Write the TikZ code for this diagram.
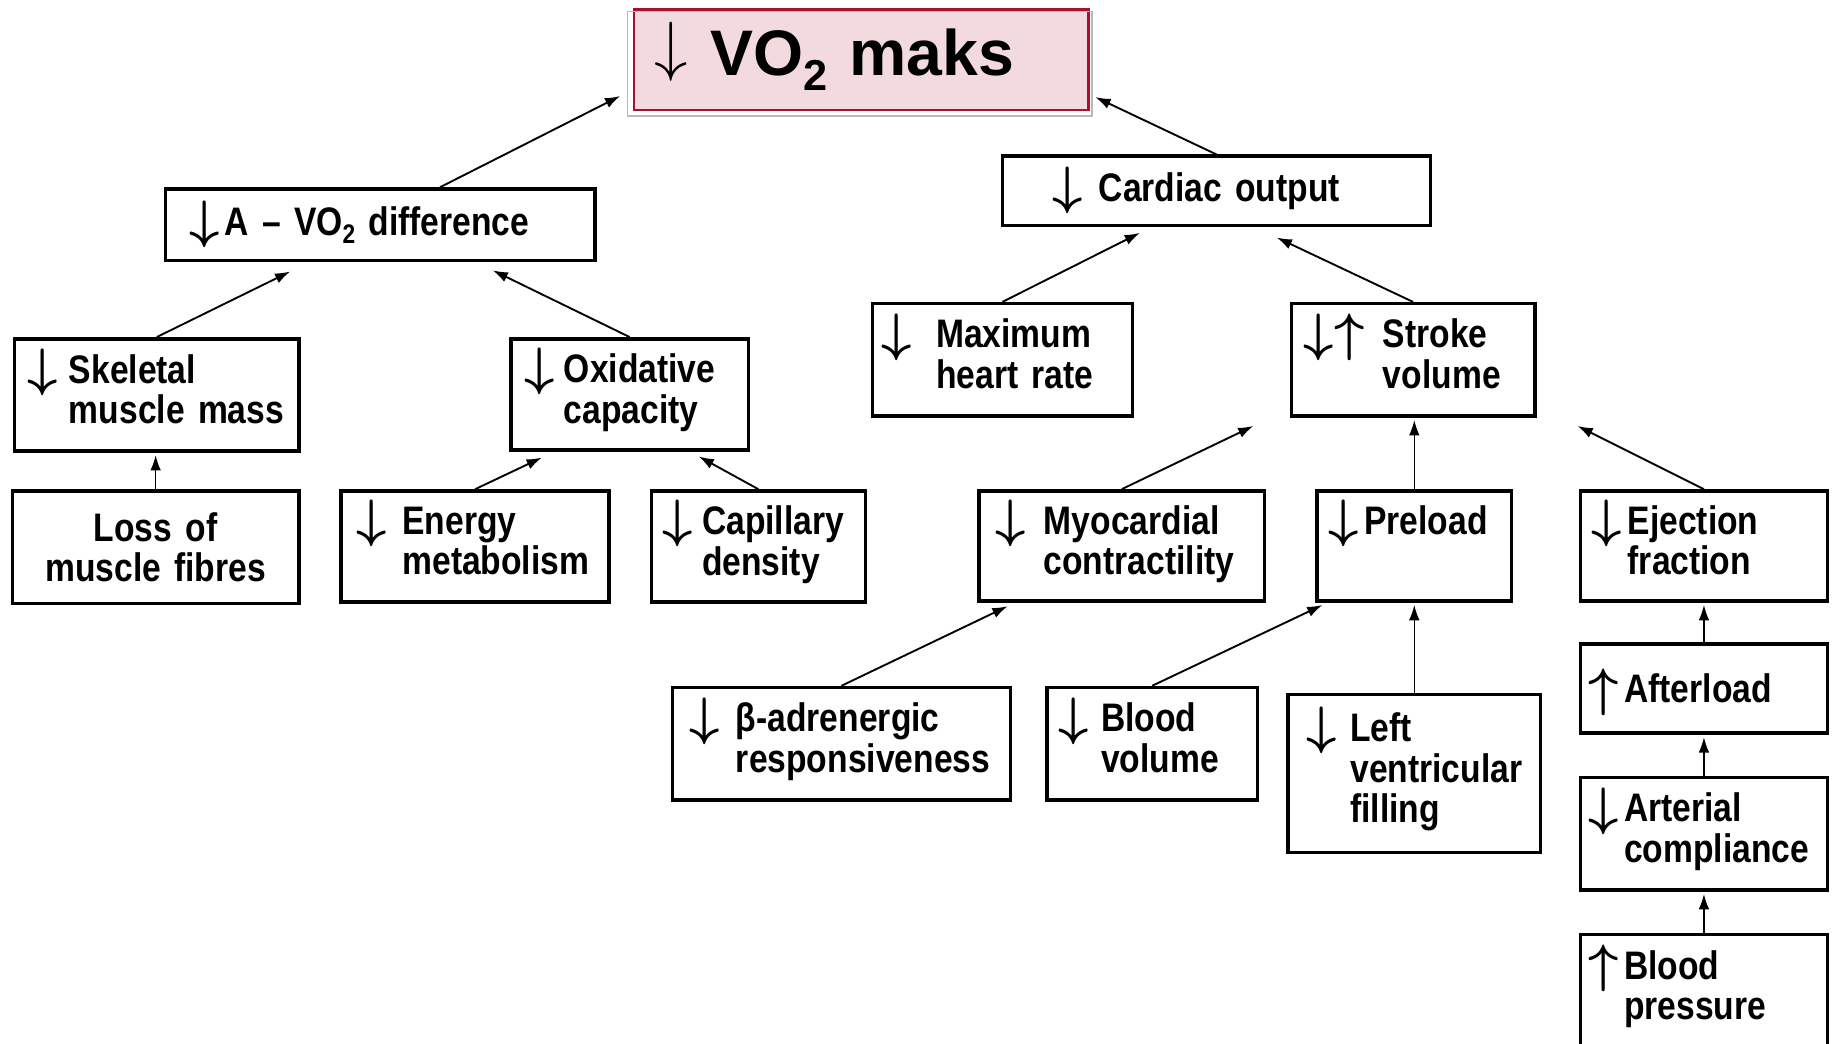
\RequirePackage{fix-cm}
\documentclass[tikz,border=0pt]{standalone}
\usepackage{fontspec}
\setmainfont{Liberation Sans}
\newfontfamily\bodyfont{Liberation Sans}[FakeStretch=0.845]
\usetikzlibrary{arrows.meta}
\definecolor{titlefill}{HTML}{F2DADE}
\definecolor{titleline}{HTML}{A8102E}
\newcommand\dnarr{\smash{\raisebox{-2pt}{\fontsize{45}{45}\selectfont\boldmath$\downarrow$}}}
\newcommand\uparr{\smash{\raisebox{-2pt}{\fontsize{45}{45}\selectfont\boldmath$\uparrow$}}}
\newcommand\boxlines[1]{\begin{tabular}[t]{@{}l@{}}#1\end{tabular}}
\newcommand\subtwo[2]{\raisebox{#1}{\fontsize{#2}{#2}\selectfont 2}}
\tikzset{box/.style={draw, line width=3pt, anchor=north west, align=left, inner ysep=0pt, font=\bodyfont\bfseries\fontsize{34}{34}\selectfont},
         title/.style={draw=titleline, fill=titlefill, line width=2pt, anchor=north west, align=left, inner ysep=0pt, font=\bfseries\fontsize{55}{55}\selectfont},
         link/.style={-{Latex[length=13pt,width=9pt]}, line width=1.6pt},
         thin link/.style={link, line width=1.1pt, shorten >=2pt}}

\begin{document}
\begin{tikzpicture}[x=1pt,y=-1pt]
     \useasboundingbox (0,0) rectangle (1568,892);
     \node[title, minimum height=86pt, text width=354pt, inner xsep=17pt] (vo2) at (541,7) {\raisebox{-3pt}{\smash{\raisebox{6pt}{\fontsize{57}{57}\selectfont$\downarrow$}}\kern20pt VO\subtwo{-13pt}{37} maks}};
     \draw[gray!55, line width=1.2pt] ([xshift=-5pt,yshift=-3pt]vo2.north west) rectangle ([xshift=2pt,yshift=-4pt]vo2.south east);

     \node[box, minimum height=61pt, text width=327pt, inner xsep=20pt] (avo) at (140,160) {\dnarr\kern4.5pt A – VO\subtwo{-7pt}{23} difference};
     \node[box, minimum height=59pt, text width=280pt, inner xsep=43pt] (co) at (855,132) {\dnarr\kern13.5pt Cardiac output};

     \node[box, minimum height=96pt, text width=221pt, inner xsep=11pt] (skm) at (11,288) {\dnarr\kern9.5pt\boxlines{Skeletal\\muscle mass}};
     \node[box, minimum height=95pt, text width=179pt, inner xsep=12pt] (oxc) at (435,288) {\dnarr\kern7.5pt\boxlines{Oxidative\\capacity}};
     \node[box, minimum height=96pt, text width=206pt, inner xsep=8pt] (mhr) at (744,258) {\dnarr\kern20.5pt\boxlines{Maximum\\heart rate}};
     \node[box, minimum height=96pt, text width=188pt, inner xsep=10pt] (sv) at (1102,258) {\dnarr\kern1pt\uparr\kern15.5pt\boxlines{Stroke\\volume}};

     \node[box, minimum height=96pt, text width=245pt, inner xsep=0pt, align=center] (lmf) at (9,418) {Loss of\\muscle fibres};
     \node[box, minimum height=95pt, text width=203pt, inner xsep=13pt] (em) at (290,418) {\dnarr\kern13.5pt\boxlines{Energy\\metabolism}};
     \node[box, minimum height=95pt, text width=163pt, inner xsep=10pt] (cd) at (555,418) {\dnarr\kern7.5pt\boxlines{Capillary\\density}};
     \node[box, minimum height=94pt, text width=216pt, inner xsep=14pt] (mc) at (835,418) {\dnarr\kern15.5pt\boxlines{Myocardial\\contractility}};
     \node[box, minimum height=94pt, text width=146pt, inner xsep=10pt] (pl) at (1124,418) {\dnarr\kern4.5pt\boxlines{Preload\\\mbox{}}};
     \node[box, minimum height=94pt, text width=193pt, inner xsep=9pt] (ef) at (1349,418) {\dnarr\kern5.5pt\boxlines{Ejection\\fraction}};

     \node[box, minimum height=96pt, text width=259pt, inner xsep=15pt] (bar) at (573,586) {\dnarr\kern13.5pt\boxlines{β-adrenergic\\responsiveness}};
     \node[box, minimum height=96pt, text width=160pt, inner xsep=10pt] (bv) at (893,586) {\dnarr\kern10.5pt\boxlines{Blood\\volume}};
     \node[box, minimum height=135pt, text width=184pt, inner xsep=16pt] (lvf) at (1099,592) {\dnarr\kern11.5pt\boxlines{Left\\ventricular\\filling}};
     \node[box, minimum height=76pt, text width=197pt, inner xsep=7pt] (afl) at (1349,549) {\uparr\kern4.5pt Afterload};
     \node[box, minimum height=96pt, text width=197pt, inner xsep=7pt] (ac) at (1349,663) {\dnarr\kern4.5pt\boxlines{Arterial\\compliance}};
     \node[box, minimum height=96pt, text width=197pt, inner xsep=7pt] (bp) at (1349,797) {\uparr\kern4.5pt\boxlines{Blood\\pressure}};

     \coordinate (avo tip) at (530,82);
     \coordinate (co tip) at (936,83);
     \coordinate (skm tip) at (248,232);
     \coordinate (oxc tip) at (421,231);
     \coordinate (mhr tip) at (974,199);
     \coordinate (sv tip) at (1091,203);
     \coordinate (em tip) at (463,391);
     \coordinate (cd tip) at (597,390);
     \coordinate (mc tip) at (1071,364);
     \coordinate (ef tip) at (1348,364);
     \coordinate (bar tip) at (861,518);
     \coordinate (bv tip) at (1130,517);

     \draw[link] ([xshift=51pt]avo.north) -- (avo tip);
     \draw[link] (co.north) -- (co tip);
     \draw[link] (skm.north) -- (skm tip);
     \draw[link] (oxc.north) -- (oxc tip);
     \draw[link] (mhr.north) -- (mhr tip);
     \draw[link] (sv.north) -- (sv tip);
     \draw[link] (em.north) -- (em tip);
     \draw[link] (cd.north) -- (cd tip);
     \draw[link] (mc.north) -- (mc tip);
     \draw[link] (ef.north) -- (ef tip);
     \draw[link] (bar.north) -- (bar tip);
     \draw[link] (bv.north) -- (bv tip);
     \draw[thin link] (lmf.north) -- (lmf.north |- skm.south);
     \draw[thin link] (pl.north) -- (pl.north |- sv.south);
     \draw[thin link] (lvf.north) -- (lvf.north |- pl.south);
     \draw[thin link] (afl.north) -- (afl.north |- ef.south);
     \draw[thin link] (ac.north) -- (ac.north |- afl.south);
     \draw[thin link] (bp.north) -- (bp.north |- ac.south);
\end{tikzpicture}
\end{document}
